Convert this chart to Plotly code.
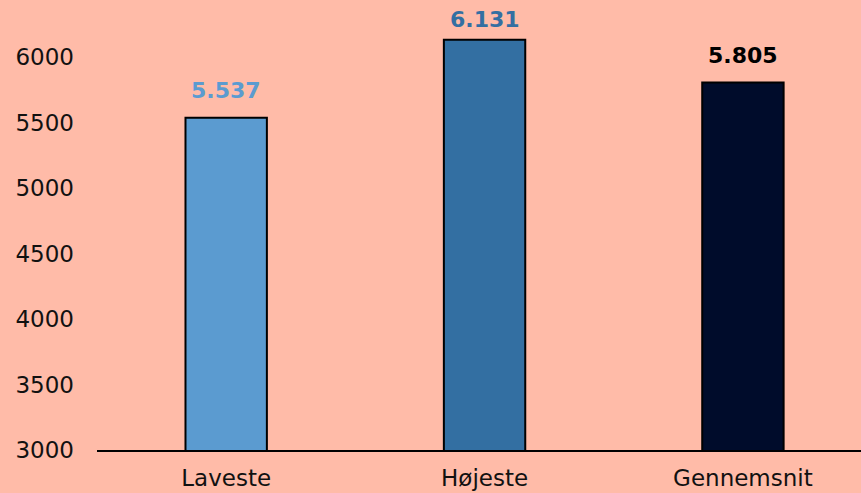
import plotly.graph_objects as go

categories = ["Laveste", "Højeste", "Gennemsnit"]
values = [5537, 6131, 5805]
bar_colors = ["#5B9BD0", "#336FA2", "#000C2B"]
label_colors = ["#5B9BD0", "#336FA2", "#000000"]
label_shifts = [13, 6, 13]
y_ticks = [3000, 3500, 4000, 4500, 5000, 5500, 6000]

bg = "#FFBBA8"

fig = go.Figure(
    go.Bar(
        x=categories,
        y=values,
        width=0.315,
        marker=dict(color=bar_colors, line=dict(color="#000000", width=2)),
        cliponaxis=False,
        hoverinfo="skip",
    )
)

for cat, val, col, sh in zip(categories, values, label_colors, label_shifts):
    fig.add_annotation(
        x=cat,
        y=val,
        text=f"{val:,}".replace(",", "."),
        showarrow=False,
        yanchor="bottom",
        yshift=sh,
        font=dict(family="DejaVu Sans", size=22, color=col, weight="bold"),
    )

fig.update_layout(
    width=861,
    height=493,
    paper_bgcolor=bg,
    plot_bgcolor=bg,
    margin=dict(l=97, r=0, t=0, b=43),
    showlegend=False,
    font=dict(family="DejaVu Sans", size=23, color="#111111"),
    xaxis=dict(
        range=[-0.5, 2.457],
        showline=True,
        linecolor="#000000",
        linewidth=2,
        ticks="",
        showgrid=False,
        automargin=False,
        ticklabelstandoff=6,
        tickfont=dict(family="DejaVu Sans", size=23, color="#111111"),
    ),
    yaxis=dict(
        range=[3000, 6435],
        tickvals=y_ticks,
        ticktext=[str(v) for v in y_ticks],
        showgrid=False,
        zeroline=False,
        showline=False,
        ticks="",
        automargin=False,
        ticklabelstandoff=22,
        tickfont=dict(family="DejaVu Sans", size=23, color="#111111"),
    ),
)

fig.write_html(
    "out.html",
    config={"displayModeBar": False},
    post_script="document.body.style.margin='0';document.body.style.background='%s';" % bg,
)
